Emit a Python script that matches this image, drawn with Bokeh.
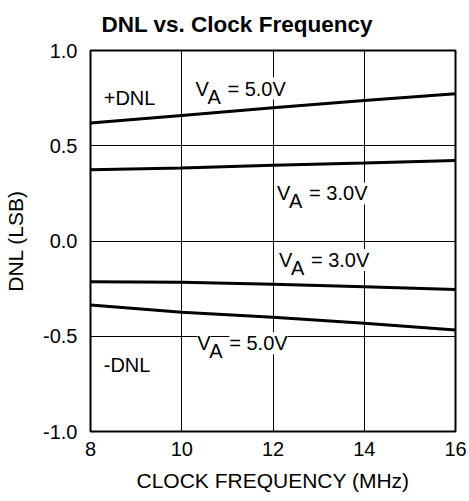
from bokeh.plotting import figure
from bokeh.models import Label, FixedTicker, PrintfTickFormatter, Range1d, Title
from bokeh.embed import file_html
from bokeh.resources import INLINE

# ---- data ----
freq = [8, 10, 12, 14, 16]
dnl_pos_5v = [0.620, 0.659, 0.699, 0.737, 0.773]
dnl_pos_3v = [0.374, 0.383, 0.398, 0.410, 0.423]
dnl_neg_3v = [-0.214, -0.217, -0.227, -0.240, -0.254]
dnl_neg_5v = [-0.336, -0.374, -0.400, -0.432, -0.467]

x_ticks = [8, 10, 12, 14, 16]
y_ticks = [-1.0, -0.5, 0.0, 0.5, 1.0]

title_text = "DNL vs. Clock Frequency"
x_label = "CLOCK FREQUENCY (MHz)"
y_label = "DNL (LSB)"

FONT = "Liberation Sans"
FS_TICK = "20px"
FS_AXIS = "21px"
FS_TXT = "20px"

p = figure(width=469, height=501, output_backend="svg", toolbar_location=None,
           x_range=Range1d(8, 16), y_range=Range1d(-1, 1),
           min_border_left=90, min_border_right=14, min_border_top=50,
           min_border_bottom=70)

p.title = Title(text=title_text, text_font=FONT, text_font_size="22.5px",
                text_font_style="bold", text_color="black", align="left",
                offset=11, standoff=23, vertical_align="top")

p.background_fill_color = "white"
p.border_fill_color = "white"
p.outline_line_color = "black"
p.outline_line_width = 2

for ax in (p.xaxis[0], p.yaxis[0]):
    ax.axis_line_color = None
    ax.major_tick_line_color = None
    ax.minor_tick_line_color = None
    ax.major_tick_out = 0
    ax.major_tick_in = 0
    ax.major_label_text_font = FONT
    ax.major_label_text_font_size = FS_TICK
    ax.major_label_text_color = "black"
    ax.axis_label_text_font = FONT
    ax.axis_label_text_font_size = FS_AXIS
    ax.axis_label_text_font_style = "normal"
    ax.axis_label_text_color = "black"

p.xaxis.ticker = FixedTicker(ticks=x_ticks)
p.yaxis.ticker = FixedTicker(ticks=y_ticks)
p.yaxis.formatter = PrintfTickFormatter(format="%.1f")
p.xaxis.major_label_standoff = 10
p.yaxis.major_label_standoff = 13
p.xaxis.axis_label = x_label
p.yaxis.axis_label = y_label
p.xaxis.axis_label_standoff = 10
p.yaxis.axis_label_standoff = 13

p.xgrid.ticker = FixedTicker(ticks=x_ticks[1:-1])
p.ygrid.ticker = FixedTicker(ticks=y_ticks[1:-1])
for g in (p.xgrid[0], p.ygrid[0]):
    g.grid_line_color = "black"
    g.grid_line_width = 1
    g.grid_line_alpha = 1.0

for ys in (dnl_pos_5v, dnl_pos_3v, dnl_neg_3v, dnl_neg_5v):
    p.line(freq, ys, line_color="black", line_width=3)


def txt(x, y, s, xo=0, yo=0, bg=True):
    lab = Label(x=x, y=y, text=s, x_offset=xo, y_offset=yo,
                text_font=FONT, text_font_size=FS_TXT, text_color="black",
                text_baseline="alphabetic", text_align="left")
    if bg:
        lab.background_fill_color = "white"
    p.add_layout(lab)


def va_label(x, y, volts):
    txt(x, y, "V")
    txt(x, y, "A", xo=12.0, yo=-8)
    txt(x, y, "= " + volts, xo=32)


txt(8.29, 0.753, "+DNL", bg=False)
txt(8.29, -0.651, "-DNL", bg=False)
va_label(10.30, 0.80, "5.0V")
va_label(12.09, 0.25, "3.0V")
va_label(12.13, -0.10, "3.0V")
va_label(10.34, -0.537, "5.0V")

open("out.html", "w").write(file_html(p, INLINE))
